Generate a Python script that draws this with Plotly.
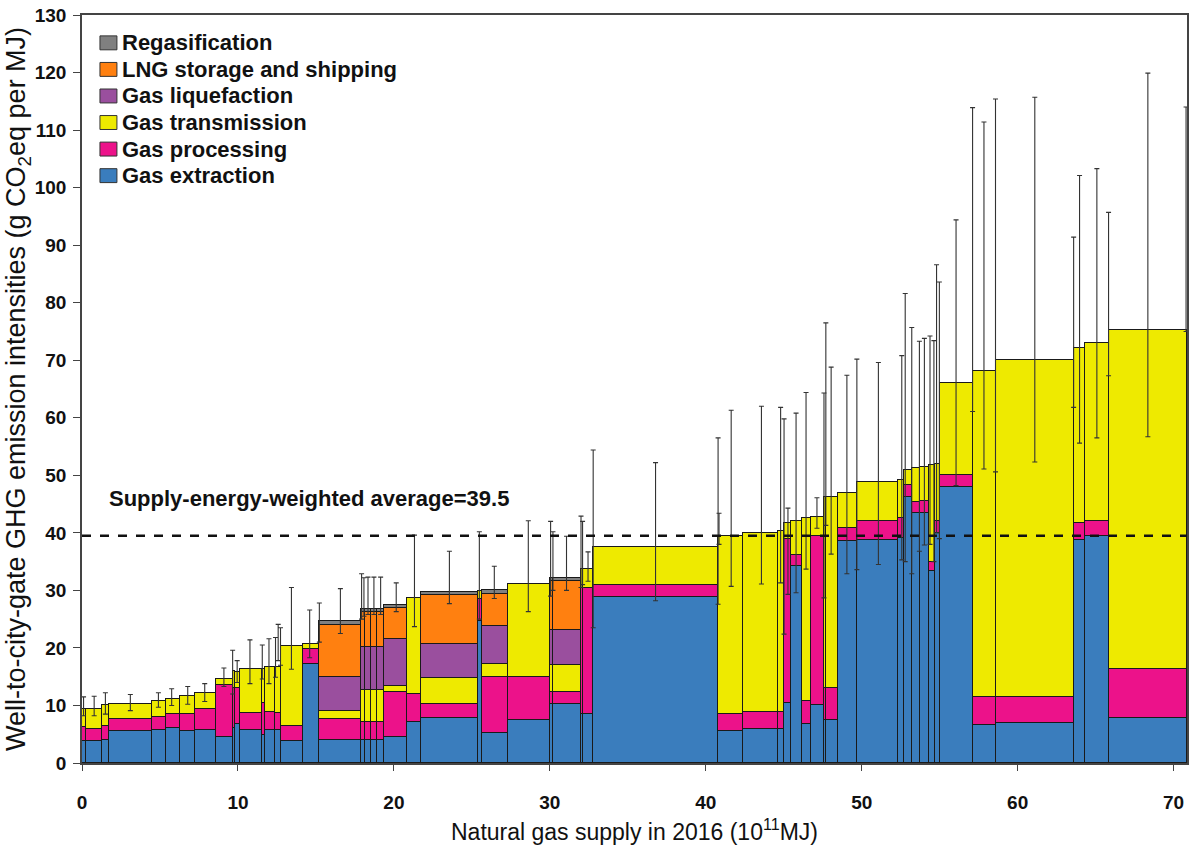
import numpy as np
import plotly.graph_objects as go

# ---- data ----
supply = [0.28, 1.00, 0.42, 2.78, 0.89, 0.92, 0.96, 1.32, 1.13, 0.11,
          0.32, 1.43, 0.17, 0.64, 0.36, 1.42, 1.05, 2.71, 0.22, 0.38,
          0.40, 0.43, 1.52, 0.85, 3.67, 0.27, 1.64, 2.71, 0.22, 1.77,
          0.15, 0.64, 8.01, 1.60, 2.22, 0.38, 0.48, 0.70, 0.57, 0.81,
          0.17, 0.73, 1.24, 2.66, 0.37, 0.48, 0.53, 0.58, 0.39, 0.32,
          2.09, 1.49, 4.99, 0.74, 1.52, 5.01]

extraction = [3.9, 3.8, 4.0, 5.5, 5.8, 6.1, 5.5, 5.8, 4.6, 6.0,
              6.8, 5.8, 4.8, 5.8, 5.7, 3.9, 17.2, 4.0, 4.0, 4.0,
              4.0, 4.0, 4.6, 7.1, 7.8, 24.7, 5.2, 7.5, 10.3, 10.3,
              8.5, 8.5, 28.9, 5.5, 5.9, 5.9, 10.5, 34.2, 6.8, 10.0,
              7.4, 7.4, 38.6, 38.8, 39.1, 46.3, 43.4, 43.4, 33.3, 40.0,
              48.0, 6.6, 6.9, 38.8, 39.5, 7.8]

processing = [2.3, 2.1, 2.5, 2.2, 2.2, 2.4, 3.0, 3.5, 9.0, 7.0,
              6.3, 2.9, 5.6, 3.0, 3.0, 2.6, 2.6, 3.6, 3.1, 3.1,
              3.1, 3.1, 7.7, 4.9, 2.4, 3.8, 9.7, 7.4, 2.1, 2.1,
              21.9, 21.9, 2.0, 3.0, 2.9, 2.9, 28.4, 2.0, 4.0, 29.4,
              5.7, 5.7, 2.2, 3.3, 3.4, 2.0, 2.0, 2.1, 1.7, 2.0,
              2.1, 4.8, 4.5, 2.9, 2.6, 8.5]

transmission = [3.2, 3.5, 3.5, 2.6, 2.7, 2.6, 3.1, 2.8, 1.0, 3.0,
                2.8, 7.7, 6.0, 7.8, 7.9, 13.9, 0.8, 1.5, 5.6, 5.6,
                5.6, 5.6, 1.1, 16.7, 4.6, 1.4, 2.3, 16.2, 4.6, 4.6,
                3.4, 3.4, 6.6, 31.0, 31.2, 31.5, 2.8, 5.9, 31.8, 3.4,
                33.2, 33.2, 6.1, 6.7, 6.7, 2.6, 5.9, 6.0, 16.8, 10.0,
                15.9, 56.8, 58.7, 30.5, 30.9, 58.9]

N = None
liquefaction = [N, N, N, N, N, N, N, N, N, N,
                N, N, N, N, N, N, N, 5.8, 7.5, 7.5,
                7.5, 7.5, 8.1, N, 5.8, N, 6.6, N, 6.1, 6.1,
                N, N, N, N, N, N, N, N, N, N,
                N, N, N, N, N, N, N, N, N, N,
                N, N, N, N, N, N]

lng_shipping = [N, N, N, N, N, N, N, N, N, N,
                N, N, N, N, N, N, N, 9.1, 6.1, 6.1,
                6.1, 6.1, 5.5, N, 8.6, N, 5.6, N, 8.5, 8.5,
                N, N, N, N, N, N, N, N, N, N,
                N, N, N, N, N, N, N, N, N, N,
                N, N, N, N, N, N]

regasification = [N, N, N, N, N, N, N, N, N, N,
                  N, N, N, N, N, N, N, 0.6, 0.4, 0.4,
                  0.4, 0.4, 0.5, N, 0.5, N, 0.6, N, 0.6, 0.6,
                  N, N, N, N, N, N, N, N, N, N,
                  N, N, N, N, N, N, N, N, N, N,
                  N, N, N, N, N, N]

# uncertainty ranges: position on supply axis, low, high
err_x = [0.1, 0.78, 1.5, 3.1, 4.9, 5.75, 6.78, 7.87, 9.1, 9.66,
         9.95, 10.77, 11.56, 11.99, 12.41, 12.58, 12.73, 13.43, 14.6, 15.22,
         16.57, 17.93, 18.08, 18.34, 18.72, 19.15, 20.15, 21.32, 23.56, 25.48,
         26.44, 28.62, 30.05, 30.2, 31.07, 32.0, 32.1, 32.45, 32.78, 36.78,
         40.79, 40.85, 41.63, 43.57, 44.8, 45.02, 45.27, 45.79, 46.43, 47.13,
         47.58, 47.7, 48.04, 49.05, 49.69, 51.07, 52.57, 52.79, 53.21, 53.7,
         54.02, 54.38, 54.63, 54.8, 54.98, 56.05, 57.11, 57.84, 58.58, 61.1,
         63.59, 63.97, 65.08, 65.83, 68.35, 70.8]
err_low = [8.2, 8.2, 8.5, 9.1, 9.7, 10.0, 10.2, 10.7, 13.3, 12.0,
           14.0, 13.8, 14.6, 13.8, 14.9, 17.8, 17.0, 16.3, 18.3, 21.0,
           22.5, 25.0, 25.5, 25.8, 25.8, 25.8, 26.3, 23.7, 27.7, 25.0,
           28.6, 26.3, 29.0, 30.0, 30.0, 30.5, 31.0, 31.6, 23.5, 28.2,
           27.6, 38.0, 30.7, 31.1, 31.3, 22.4, 29.3, 29.6, 33.7, 40.8,
           28.7, 41.3, 36.3, 32.9, 33.6, 34.5, 35.3, 35.0, 32.9, 36.8,
           37.9, 38.0, 35.0, 40.0, 39.0, 48.2, 61.1, 51.1, 50.6, 52.3,
           61.8, 55.6, 56.5, 67.3, 56.7, 75.0]
err_high = [11.5, 11.6, 12.2, 11.9, 12.2, 12.9, 13.3, 13.8, 16.5, 19.6,
            17.8, 21.4, 20.5, 21.6, 21.8, 24.1, 23.5, 30.5, 26.6, 27.8,
            30.3, 32.9, 32.2, 32.3, 32.3, 32.3, 31.3, 39.6, 36.8, 40.2,
            34.2, 42.1, 42.0, 40.2, 39.4, 42.9, 42.0, 36.7, 54.4, 52.2,
            56.5, 43.4, 61.3, 62.0, 61.8, 59.8, 44.3, 60.8, 64.4, 46.1,
            64.3, 76.5, 68.8, 67.4, 70.2, 69.6, 70.8, 81.6, 75.7, 73.3,
            73.8, 74.2, 73.4, 86.6, 83.6, 94.4, 113.9, 111.4, 115.4, 115.7,
            91.4, 102.1, 103.3, 95.7, 119.9, 114.0]

average = 39.5
x_ticks = [0, 10, 20, 30, 40, 50, 60, 70]
y_ticks = list(range(0, 131, 10))

# ---- geometry from supply ----
widths = np.array(supply)
right = np.cumsum(widths)
centers = right - widths / 2
x_max = float(right[-1])

series = [
    ("Gas extraction", extraction, "#3A7DBD"),
    ("Gas processing", processing, "#EC128A"),
    ("Gas transmission", transmission, "#EEEA00"),
    ("Gas liquefaction", liquefaction, "#9A4F9E"),
    ("LNG storage and shipping", lng_shipping, "#FF8010"),
    ("Regasification", regasification, "#808080"),
]

W, H = 1194, 859
ML, MR, MT, MB = 82, 5, 11, 96
PW, PH = W - ML - MR, H - MT - MB

fig = go.Figure()
for name, vals, col in series:
    fig.add_trace(go.Bar(
        x=centers, y=vals, width=widths, name=name, showlegend=False,
        marker=dict(color=col, line=dict(color="#1a1a1a", width=1)),
        hoverinfo="skip",
    ))

ex = np.array(err_x)
lo = np.array(err_low)
hi = np.array(err_high)
fig.add_trace(go.Scatter(
    x=ex, y=lo, mode="markers", showlegend=False,
    marker=dict(size=1, color="rgba(0,0,0,0)"),
    error_y=dict(type="data", symmetric=False, array=hi - lo,
                 arrayminus=np.zeros_like(lo), width=2.5, thickness=1.1,
                 color="#333333"),
    hoverinfo="skip",
))

fig.add_shape(type="line", xref="x", yref="y", x0=0, x1=x_max,
              y0=average, y1=average,
              line=dict(color="#111", width=2.5, dash="dash"))

fig.add_annotation(x=1.6, y=45.9, xref="x", yref="y",
                   text="<b>Supply-energy-weighted average=39.5</b>",
                   showarrow=False, xanchor="left", yanchor="middle",
                   font=dict(family="Liberation Sans, Arial", size=22, color="#111"))

# legend drawn by hand (top-left, inside the plot), top entry first
def px_x(p):
    return (p - ML) / PW

def px_y(p):
    return (H - MB - p) / PH

row0, row_step = 39.0, 26.7
for i, (name, vals, col) in enumerate(reversed(series)):
    cy = row0 + i * row_step
    fig.add_shape(type="rect", xref="paper", yref="paper",
                  x0=px_x(100), x1=px_x(117), y0=px_y(cy + 7), y1=px_y(cy - 7),
                  fillcolor=col, line=dict(color="#333", width=1))
    fig.add_annotation(x=px_x(120), y=px_y(cy), xref="paper", yref="paper",
                       text=f"<b>{name}</b>", showarrow=False,
                       xanchor="left", yanchor="middle",
                       font=dict(family="Liberation Sans, Arial", size=22, color="#111"))

fig.update_layout(
    width=W, height=H,
    margin=dict(l=ML, r=MR, t=MT, b=MB),
    paper_bgcolor="white", plot_bgcolor="white",
    barmode="stack", bargap=0,
    showlegend=False,
    font=dict(family="Liberation Sans, Arial", color="#111"),
)

fig.update_xaxes(
    range=[0, x_max], tickvals=x_ticks, ticktext=[f"<b>{t}</b>" for t in x_ticks],
    ticks="outside", ticklen=6, tickcolor="#444",
    showline=True, linecolor="#444", linewidth=1.5, mirror=True,
    showgrid=False, zeroline=False,
    tickfont=dict(family="Liberation Sans Narrow, Arial Narrow, Liberation Sans", size=19, color="#111"),
    ticklabelstandoff=15,
    title=dict(text="Natural gas supply in 2016 (10<sup>11</sup>MJ)",
               font=dict(family="Liberation Sans Narrow, Arial Narrow, Liberation Sans", size=23, color="#111"),
               standoff=12),
)
fig.update_yaxes(
    range=[0, 130], tickvals=y_ticks, ticktext=[f"<b>{t}</b>" for t in y_ticks],
    ticks="outside", ticklen=7, tickcolor="#444",
    showline=True, linecolor="#444", linewidth=1.5, mirror=True,
    showgrid=False, zeroline=False,
    tickfont=dict(family="Liberation Sans, Arial", size=19, color="#111"),
    ticklabelstandoff=3,
    title=dict(text="Well-to-city-gate GHG emission intensities (g CO<sub>2</sub>eq per MJ)",
               font=dict(family="Liberation Sans, Arial", size=27, color="#111"),
               standoff=0),
)

fig.write_html("out.html")
